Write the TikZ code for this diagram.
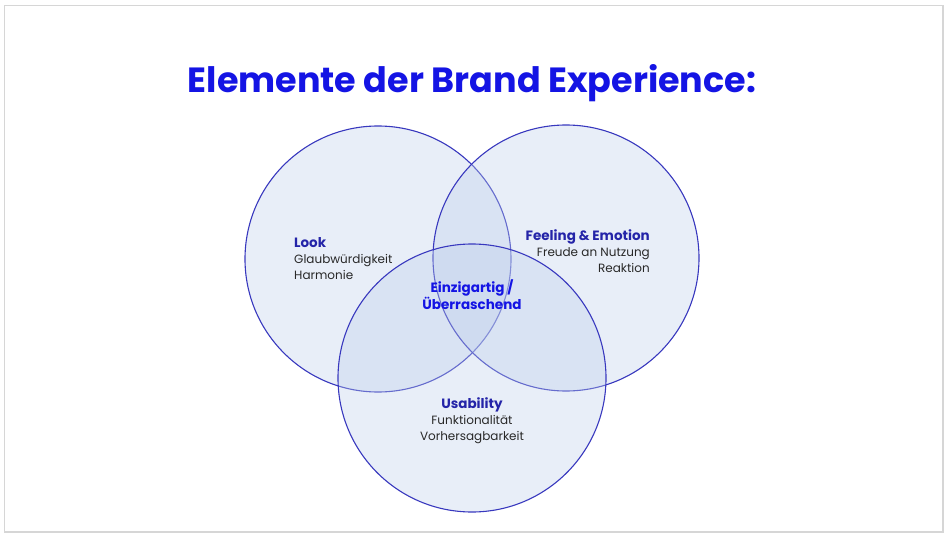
\documentclass[tikz,border=0pt]{standalone}
\usepackage{fontspec}
\setmainfont{Poppins}
\usetikzlibrary{positioning}
\definecolor{titleblue}{RGB}{20,20,228}
\definecolor{headblue}{RGB}{36,36,168}
\definecolor{ringblue}{RGB}{56,56,190}
\definecolor{ringfill}{RGB}{189,206,235}
\definecolor{bodygray}{RGB}{40,40,40}
\definecolor{framegray}{RGB}{214,214,214}
\newcommand\rad{133pt}
\newcommand\dy{4pt}
\tikzset{
  ring/.style={circle, draw=ringblue, line width=1.1pt, fill=ringfill,
    fill opacity=0.35, minimum size=2*\rad, inner sep=0pt},
  label head/.style={font=\fontsize{13.5}{15}\selectfont\bfseries, text=headblue,
    inner sep=0pt, text height=9.5pt, text depth=3pt},
  label body/.style={font=\fontsize{12}{15}\selectfont, text=bodygray,
    inner sep=0pt, text height=9pt, text depth=3pt},
  core/.style={font=\fontsize{13.5}{16}\selectfont\bfseries, text=titleblue,
    inner sep=0pt, text height=10pt, text depth=3pt},
}

\begin{document}
\begin{tikzpicture}[x=1pt, y=-1pt]
  \useasboundingbox (0,0) rectangle (951,538);
  \draw[framegray, line width=1.5pt] (4.5,5.5) rectangle (943,532);

  % title
  \node[font=\fontsize{35}{40}\selectfont\bfseries, text=titleblue, anchor=base,
    inner sep=0pt] (title) at (472,92) {Elemente der Brand Experience:};

  % circles
  \node[ring] (look) at (378,259) {};
  \node[ring] (feeling) at (566,258) {};
  \node[ring, minimum size=2*\rad+2pt] (usability) at (472,378) {};

  % look
  \node[label head, anchor=base west] (lookhead) at (294,247) {Look};
  \node[label body, below right=\dy and 0pt of lookhead.south west] (look1) {Glaubwürdigkeit};
  \node[label body, below right=\dy and 0pt of look1.south west] (look2) {Harmonie};

  % feeling & emotion
  \node[label head, anchor=base east] (feelhead) at (650,240) {Feeling \& Emotion};
  \node[label body, below left=\dy and 0pt of feelhead.south east] (feel1) {Freude an Nutzung};
  \node[label body, below left=\dy and 0pt of feel1.south east] (feel2) {Reaktion};

  % center
  \node[core, anchor=base] (core1) at (472,292) {Einzigartig /};
  \node[core, below=\dy of core1] (core2) {Überraschend};

  % usability
  \node[label head, anchor=base] (usehead) at (472,408) {Usability};
  \node[label body, below=\dy of usehead] (use1) {Funktionalität};
  \node[label body, below=\dy of use1] (use2) {Vorhersagbarkeit};
\end{tikzpicture}
\end{document}
